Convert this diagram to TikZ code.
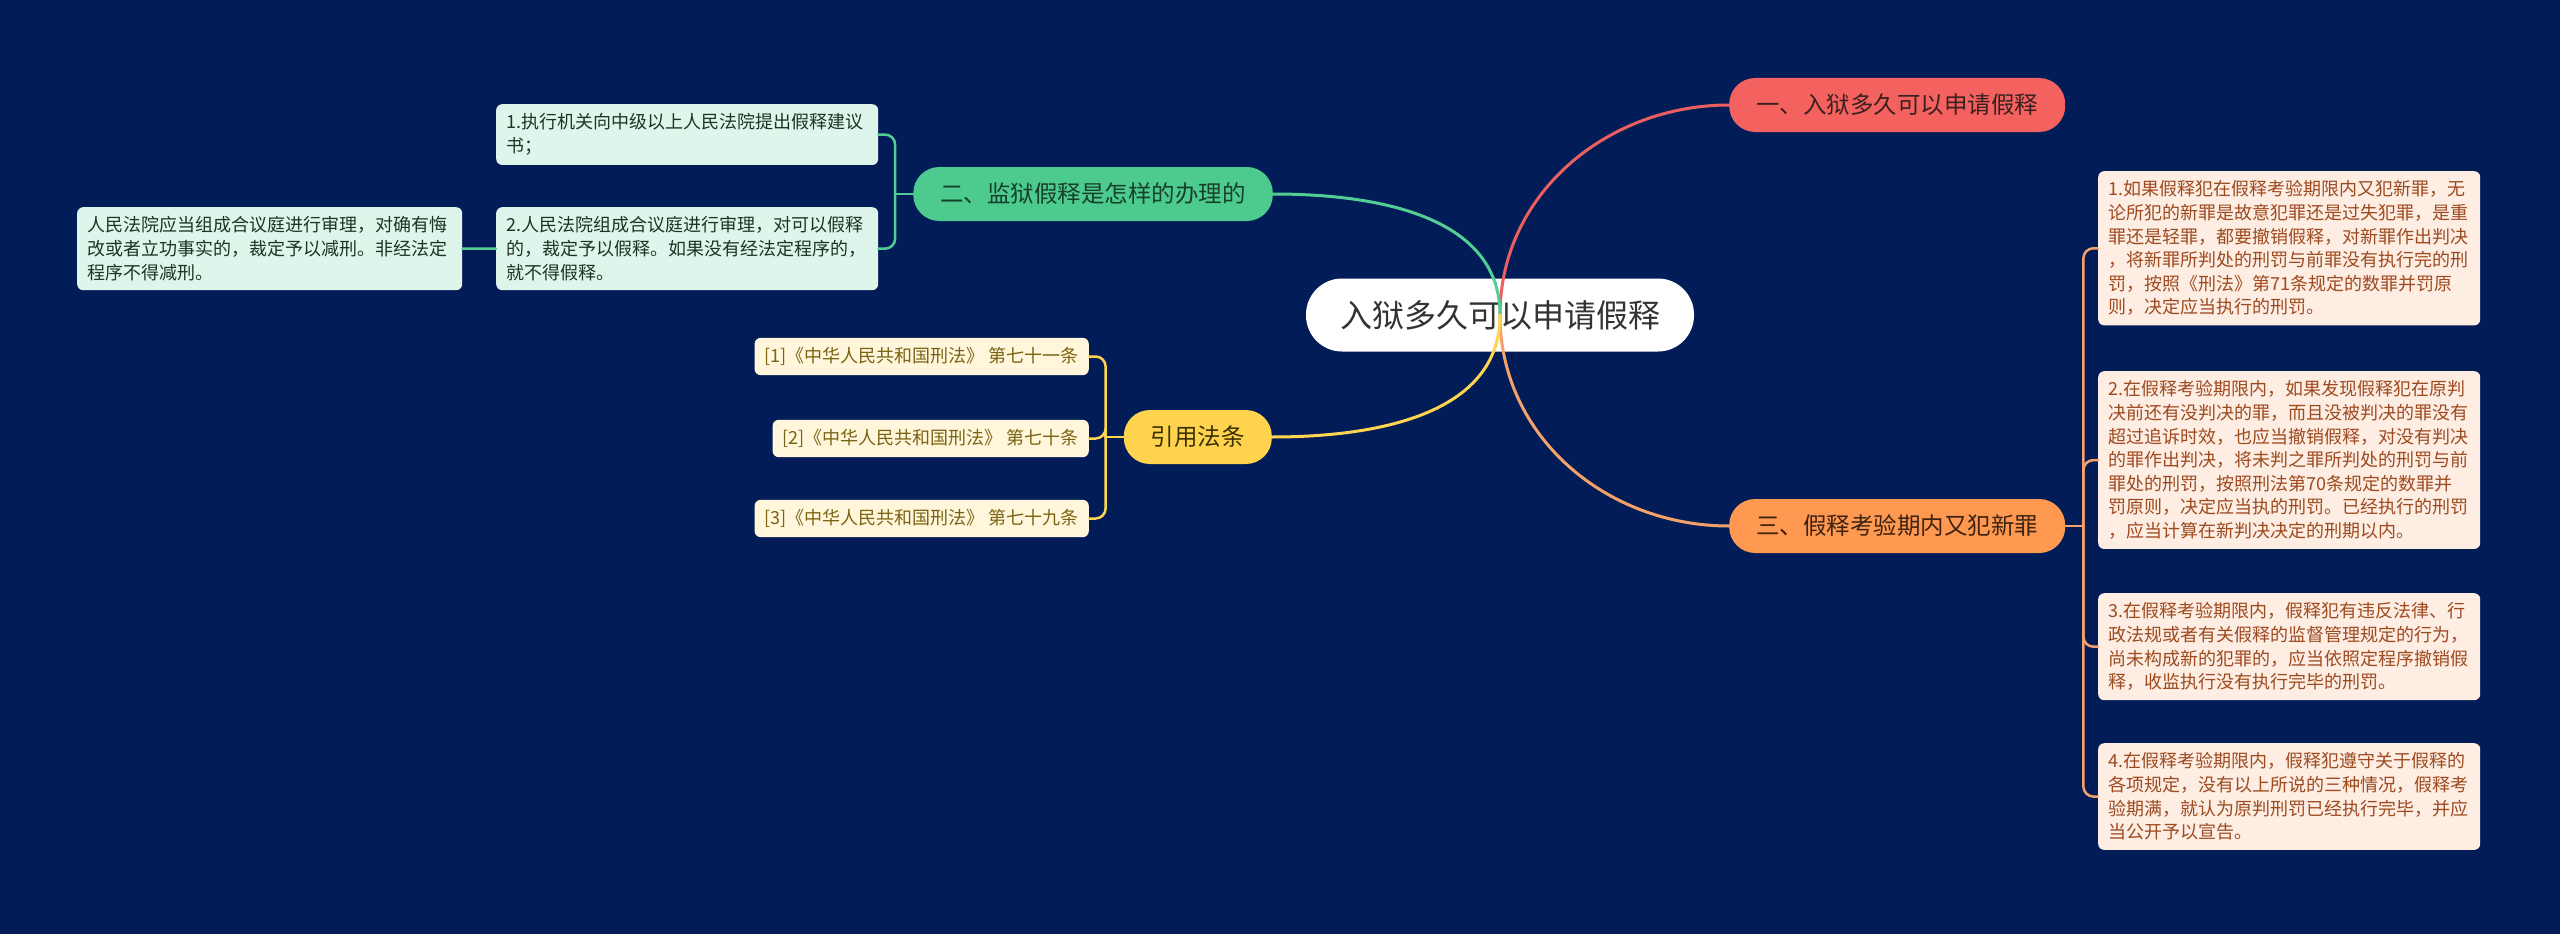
\documentclass[tikz,border=0pt]{standalone}
\usepackage{fontspec}
\setmainfont{Noto Sans CJK SC}
\definecolor{bgnavy}{HTML}{021C58}
\definecolor{rootink}{HTML}{333333}
\definecolor{redfill}{HTML}{F46260}
\definecolor{redline}{HTML}{E9605E}
\definecolor{redink}{HTML}{3A2020}
\definecolor{grnfill}{HTML}{4DCB8F}
\definecolor{grnline}{HTML}{52CD94}
\definecolor{grnink}{HTML}{17402B}
\definecolor{grnleaf}{HTML}{DDF5EA}
\definecolor{grnleafink}{HTML}{1E3328}
\definecolor{ylwfill}{HTML}{FFD34E}
\definecolor{ylwline}{HTML}{FFD54F}
\definecolor{ylwink}{HTML}{3A3000}
\definecolor{ylwleaf}{HTML}{FFF6DB}
\definecolor{ylwleafink}{HTML}{7A6312}
\definecolor{orgfill}{HTML}{FF9850}
\definecolor{orgline}{HTML}{F5A26A}
\definecolor{orgink}{HTML}{3D2310}
\definecolor{orgleaf}{HTML}{FDEDE3}
\definecolor{orgleafink}{HTML}{9E4A1F}

\begin{document}
\begin{tikzpicture}[x=1pt, y=-1pt,
  root/.style={fill=white, text=rootink, rounded corners=36pt, inner xsep=34pt,
    minimum height=73pt, font=\fontsize{32}{38}\selectfont},
  branch/.style={rounded corners=26pt, inner xsep=27pt, minimum height=54pt,
    font=\fontsize{23.5}{28}\selectfont},
  leaf/.style={rounded corners=6pt, inner xsep=10pt, inner ysep=9.5pt, align=left,
    font=\fontsize{18}{23.6}\selectfont},
  wire/.style={line width=3pt, line cap=round},
  twig/.style={line width=2.5pt, line cap=round, rounded corners=10pt}]
  \useasboundingbox[fill=bgnavy] (0,0) rectangle (2560,934);

  % topic and branches
  \node[root] (root) at (1500,315) {入狱多久可以申请假释};
  \node[branch, fill=redfill, text=redink, anchor=west] (b1) at (1729,105) {一、入狱多久可以申请假释};
  \node[branch, fill=grnfill, text=grnink, anchor=east] (b2) at (1273,194) {二、监狱假释是怎样的办理的};
  \node[branch, fill=orgfill, text=orgink, anchor=west] (b3) at (1729,526) {三、假释考验期内又犯新罪};
  \node[branch, fill=ylwfill, text=ylwink, anchor=east] (b4) at (1272,437) {引用法条};

  % procedure
  \node[leaf, fill=grnleaf, text=grnleafink, text width=362pt, anchor=north west] (g1) at (496,104)
    {1.执行机关向中级以上人民法院提出假释建议\\书；};
  \node[leaf, fill=grnleaf, text=grnleafink, text width=362pt, anchor=north west] (g2) at (496,207)
    {2.人民法院组成合议庭进行审理，对可以假释\\的，裁定予以假释。如果没有经法定程序的，\\就不得假释。};
  \node[leaf, fill=grnleaf, text=grnleafink, text width=365pt, anchor=north west] (g3) at (77,207)
    {人民法院应当组成合议庭进行审理，对确有悔\\改或者立功事实的，裁定予以减刑。非经法定\\程序不得减刑。};

  % citations
  \node[leaf, fill=ylwleaf, text=ylwleafink, anchor=east] (y1) at (1089,356.5) {[1]《中华人民共和国刑法》 第七十一条};
  \node[leaf, fill=ylwleaf, text=ylwleafink, anchor=east] (y2) at (1089,438.5) {[2]《中华人民共和国刑法》 第七十条};
  \node[leaf, fill=ylwleaf, text=ylwleafink, anchor=east] (y3) at (1089,518.5) {[3]《中华人民共和国刑法》 第七十九条};

  % new crimes during probation
  \node[leaf, fill=orgleaf, text=orgleafink, text width=362pt, anchor=north west] (o1) at (2098,171)
    {1.如果假释犯在假释考验期限内又犯新罪，无\\论所犯的新罪是故意犯罪还是过失犯罪，是重\\罪还是轻罪，都要撤销假释，对新罪作出判决\\，将新罪所判处的刑罚与前罪没有执行完的刑\\罚，按照《刑法》第71条规定的数罪并罚原\\则，决定应当执行的刑罚。};
  \node[leaf, fill=orgleaf, text=orgleafink, text width=362pt, anchor=north west] (o2) at (2098,371)
    {2.在假释考验期限内，如果发现假释犯在原判\\决前还有没判决的罪，而且没被判决的罪没有\\超过追诉时效，也应当撤销假释，对没有判决\\的罪作出判决，将未判之罪所判处的刑罚与前\\罪处的刑罚，按照刑法第70条规定的数罪并\\罚原则，决定应当执的刑罚。已经执行的刑罚\\，应当计算在新判决决定的刑期以内。};
  \node[leaf, fill=orgleaf, text=orgleafink, text width=362pt, anchor=north west] (o3) at (2098,593)
    {3.在假释考验期限内，假释犯有违反法律、行\\政法规或者有关假释的监督管理规定的行为，\\尚未构成新的犯罪的，应当依照定程序撤销假\\释，收监执行没有执行完毕的刑罚。};
  \node[leaf, fill=orgleaf, text=orgleafink, text width=362pt, anchor=north west] (o4) at (2098,743)
    {4.在假释考验期限内，假释犯遵守关于假释的\\各项规定，没有以上所说的三种情况，假释考\\验期满，就认为原判刑罚已经执行完毕，并应\\当公开予以宣告。};

  % connectors
  \draw[wire, redline] (root.center) to[out=90, in=180] (b1.west);
  \draw[wire, grnline] (root.center) to[out=90, in=0] (b2.east);
  \draw[wire, orgline] (root.center) to[out=-90, in=180] (b3.west);
  \draw[wire, ylwline] (root.center) to[out=-90, in=0] (b4.east);

  \draw[twig, grnline] (b2.west) -- ++(-18,0) coordinate (gk);
  \draw[twig, grnline] (gk) |- (g1.east);
  \draw[twig, grnline] (gk) |- (g2.east);
  \draw[twig, grnline] (g3.east) -- (g2.west);

  \draw[twig, ylwline] (b4.west) -- ++(-18,0) coordinate (yk);
  \draw[twig, ylwline] (yk) |- (y1.east);
  \draw[twig, ylwline] (yk) |- (y2.east);
  \draw[twig, ylwline] (yk) |- (y3.east);

  \draw[twig, orgline] (b3.east) -- ++(18,0) coordinate (ok);
  \foreach \n in {o1,o2,o3,o4}
    \draw[twig, orgline] (ok) |- (\n.west);
\end{tikzpicture}
\end{document}
